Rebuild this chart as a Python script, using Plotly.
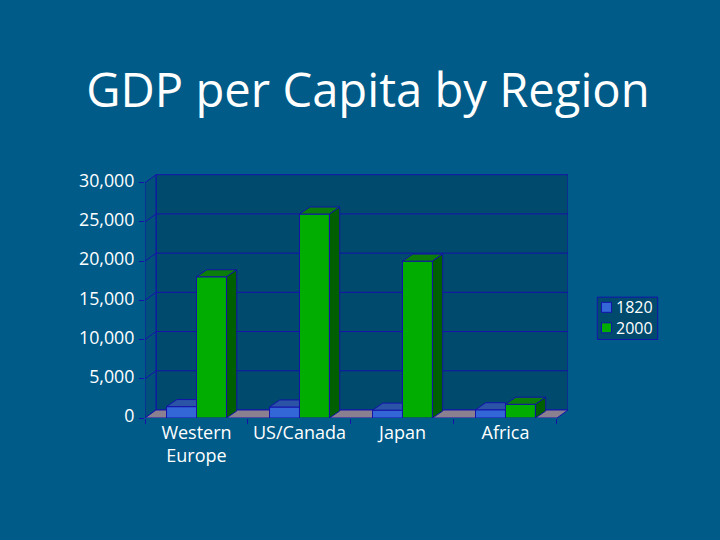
import plotly.graph_objects as go

regions = ['Western<br>Europe', 'US/Canada', 'Japan', 'Africa']
series_names = ['1820', '2000']
gdp_1820 = [1450, 1400, 1000, 1050]
gdp_2000 = [18000, 26000, 20000, 1750]
y_ticks = [0, 5000, 10000, 15000, 20000, 25000, 30000]

BG = '#005b88'
WALL = '#004a6e'
SIDE_WALL = '#005079'
FLOOR = '#8a8090'
EDGE = '#1414aa'
FONT = 'Open Sans'

# fake 3d: depth in data units, axes run along the front plane
WALL_DX, WALL_DY = 0.107, 1020
BAR_DX, BAR_DY = 0.1, 900
BAR_W = 0.291

front_colors = ['#3366d6', '#00ad00']
top_colors = ['#2b54a6', '#0a7d0a']
side_colors = ['#1f3f8a', '#005f00']


def poly(xs, ys, color):
    return go.Scatter(x=xs + xs[:1], y=ys + ys[:1], mode='lines', fill='toself', fillcolor=color,
                      line=dict(color=EDGE, width=1), hoverinfo='skip', showlegend=False)


n = len(regions)
ymax = y_ticks[-1]
fig = go.Figure()

# front faces are real bars, tops and sides sit on the same axes
for s, values in enumerate([gdp_1820, gdp_2000]):
    fig.add_trace(go.Bar(x=[i + 0.5 for i in range(n)], y=values, name=series_names[s], width=BAR_W,
                         offset=-BAR_W if s == 0 else 0, marker=dict(color=front_colors[s], line=dict(color=EDGE, width=1)),
                         showlegend=False))

for s, values in enumerate([gdp_1820, gdp_2000]):
    for i, v in enumerate(values):
        left = i + 0.5 - BAR_W + s * BAR_W
        right = left + BAR_W
        if s == 0:
            # the green bar hides the rest of the blue one
            fig.add_trace(poly([left, left + BAR_DX, right, right], [v, v + BAR_DY, v + BAR_DY, v], top_colors[s]))
        else:
            fig.add_trace(poly([left, left + BAR_DX, right + BAR_DX, right], [v, v + BAR_DY, v + BAR_DY, v], top_colors[s]))
            fig.add_trace(poly([right, right + BAR_DX, right + BAR_DX, right], [v, v + BAR_DY, BAR_DY, 0], side_colors[s]))

shapes = []


def add_path(points, fill=None, width=1):
    path = 'M' + 'L'.join(f'{x},{y}' for x, y in points) + ('Z' if fill else '')
    shapes.append(dict(type='path', path=path, xref='x', yref='y', layer='below', fillcolor=fill,
                       line=dict(color=EDGE, width=width)))


add_path([(WALL_DX, WALL_DY), (n + WALL_DX, WALL_DY), (n + WALL_DX, ymax + WALL_DY), (WALL_DX, ymax + WALL_DY)], WALL)
add_path([(0, 0), (WALL_DX, WALL_DY), (WALL_DX, ymax + WALL_DY), (0, ymax)], SIDE_WALL)
add_path([(0, 0), (n, 0), (n + WALL_DX, WALL_DY), (WALL_DX, WALL_DY)], FLOOR)
for t in y_ticks[1:-1]:
    add_path([(0, t), (WALL_DX, t + WALL_DY), (n + WALL_DX, t + WALL_DY)])

# hand made legend, plotly's own swatch column is too wide for this box
LEG_L, LEG_T, LEG_R, LEG_B = 597.3, 297.3, 657.7, 339.7
PLOT_L, PLOT_R, PLOT_T, PLOT_B = 145, 568, 174, 418.3


def px(x):
    return (x - PLOT_L) / (PLOT_R - PLOT_L)


def py(y):
    return (PLOT_B - y) / (PLOT_B - PLOT_T)


shapes.append(dict(type='rect', xref='paper', yref='paper', x0=px(LEG_L), x1=px(LEG_R), y0=py(LEG_B), y1=py(LEG_T),
                   fillcolor=WALL, line=dict(color=EDGE, width=1)))
annotations = []
for s, name in enumerate(series_names):
    cy = 307.5 + s * 20.5
    shapes.append(dict(type='rect', xref='paper', yref='paper', x0=px(601.5), x1=px(611.5), y0=py(cy + 5), y1=py(cy - 5),
                       fillcolor=front_colors[s], line=dict(color=EDGE, width=1)))
    annotations.append(dict(text=name, xref='paper', yref='paper', x=px(615), y=py(cy), xanchor='left', yanchor='middle',
                            showarrow=False, borderpad=0, font=dict(family=FONT, size=16, color='white')))

fig.update_layout(
    width=720, height=540, autosize=False,
    paper_bgcolor=BG, plot_bgcolor='rgba(0,0,0,0)',
    margin=dict(l=PLOT_L, r=720 - PLOT_R, t=PLOT_T, b=540 - PLOT_B, pad=0),
    title=dict(text='GDP per Capita by Region', x=368 / 720, xanchor='center', y=1 - 90 / 540, yanchor='middle',
               font=dict(family=FONT, size=47.2, color='white')),
    barmode='overlay', showlegend=False, shapes=shapes, annotations=annotations,
    xaxis=dict(range=[0, n + WALL_DX], tickvals=[i + 0.5 for i in range(n)], ticktext=regions, ticks='', showgrid=False,
               zeroline=False, showline=False, tickangle=0, ticklabelstandoff=2,
               tickfont=dict(family=FONT, size=18, color='white'),
               minor=dict(tickvals=list(range(n + 1)), ticks='outside', ticklen=5, tickcolor=EDGE, tickwidth=1, showgrid=False)),
    yaxis=dict(range=[0, (PLOT_B - PLOT_T) / (PLOT_B - 182.7) * ymax], tickvals=y_ticks, tickformat=',d', ticks='outside',
               ticklen=5, tickcolor=EDGE, tickwidth=1, showgrid=False, zeroline=False, showline=False,
               ticklabelstandoff=1, ticklabelshift=-2, tickfont=dict(family=FONT, size=17.8, color='white')),
)

# the page must start at the window corner, no default body margin
fig.write_html('out.html', config=dict(displayModeBar=False), post_script="document.body.style.margin='0';")
